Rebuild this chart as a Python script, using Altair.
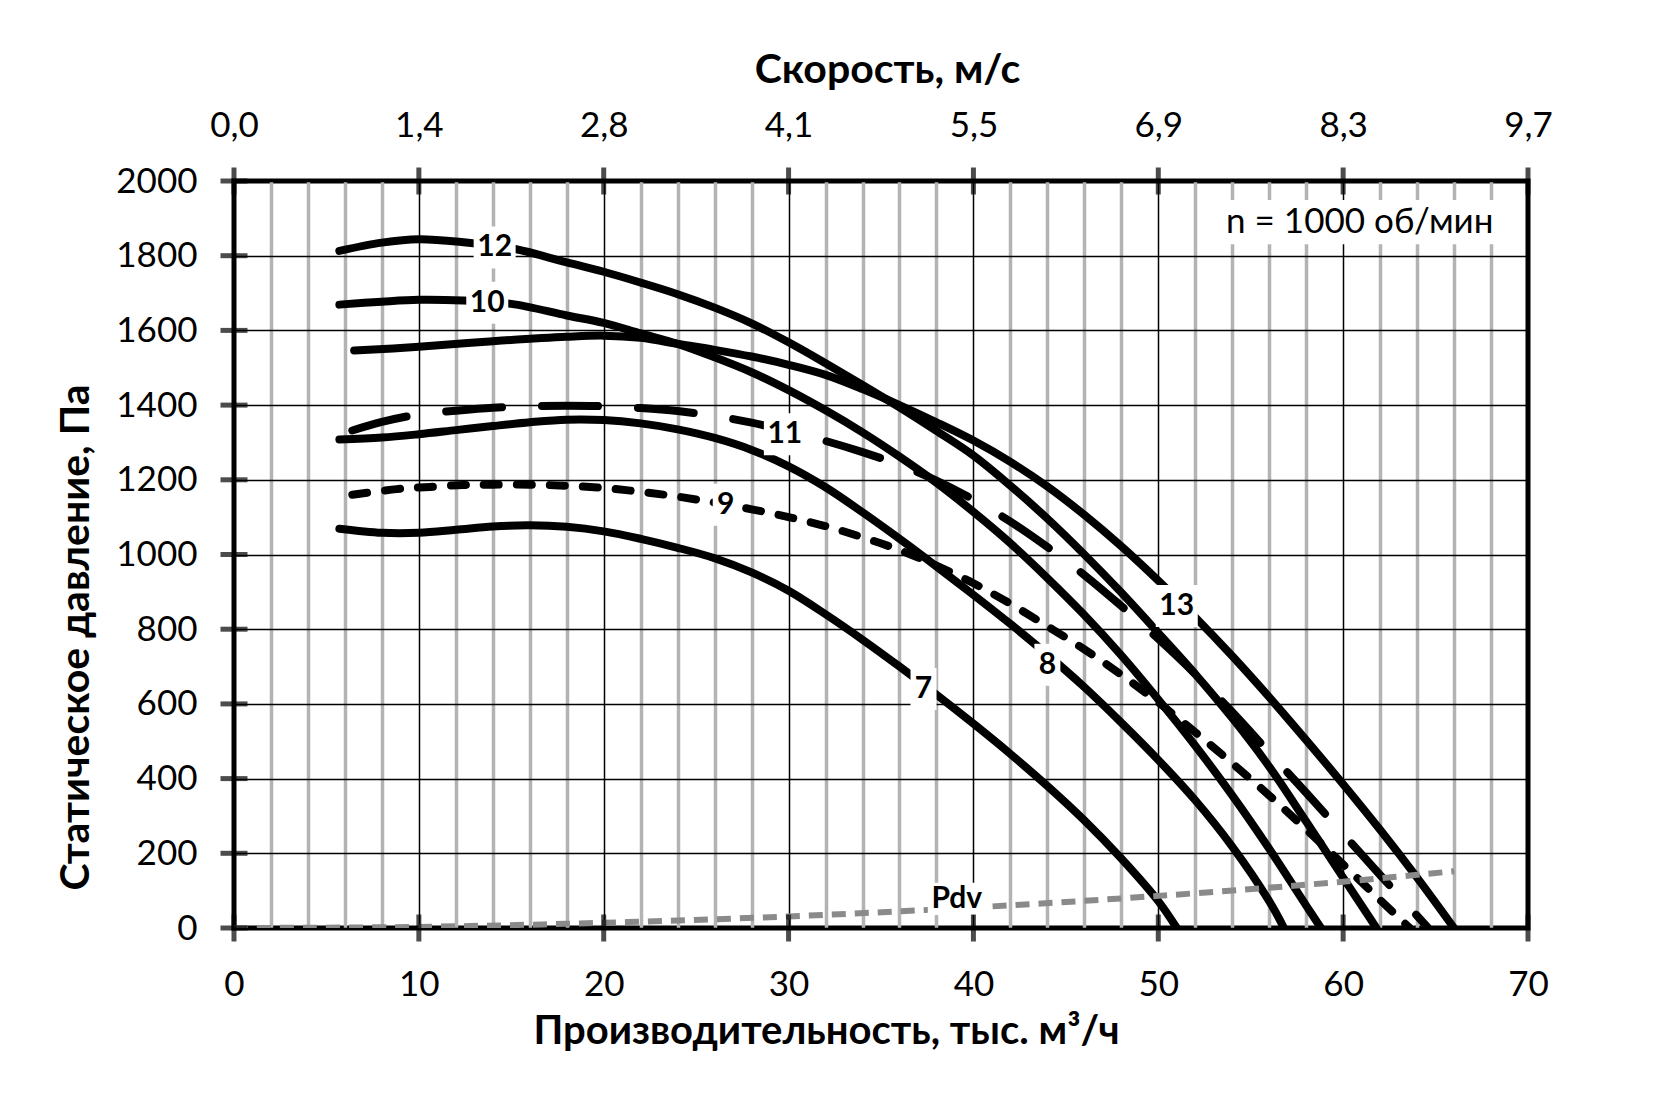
import altair as alt
import pandas as pd

# Fan curves: flow, thousand m3/h (x) vs static pressure, Pa (y)
c7_x = [5.7, 8, 10, 12, 14, 16, 18, 20, 22, 24, 26, 28, 30, 32, 34, 36, 38, 40, 42, 44, 46, 48, 50, 51]
c7_y = [1069, 1058, 1058, 1066, 1075, 1078, 1074, 1062, 1042, 1018, 990, 952, 903, 840, 772, 700, 625, 547, 466, 380, 288, 186, 72, 0]

c8_x = [5.7, 8, 10, 12, 14, 16, 18, 20, 22, 24, 26, 28, 30, 32, 34, 36, 38, 40, 42, 44, 46, 48, 50, 52, 54, 56, 56.8]
c8_y = [1308, 1313, 1322, 1333, 1344, 1354, 1361, 1360, 1351, 1335, 1312, 1280, 1236, 1180, 1113, 1042, 968, 892, 814, 732, 645, 550, 450, 342, 218, 72, 0]

c9_x = [6.4, 8.8, 10.6, 12.4, 14, 16, 18, 20, 22, 24, 26, 28, 30, 32, 34, 36, 38, 40, 42, 44, 46, 48, 50, 52, 54, 56, 58, 60, 62, 63.6]
c9_y = [1160, 1175, 1181, 1186, 1187, 1187, 1184, 1178, 1168, 1155, 1139, 1121, 1100, 1076, 1046, 1012, 970, 923, 868, 808, 746, 678, 604, 524, 441, 355, 264, 170, 75, 0]

c10_x = [5.7, 8, 10, 12.4, 15, 18, 20, 22, 24, 26, 28, 30, 32, 34, 36, 38, 40, 42, 44, 46, 48, 50, 52, 54, 56, 58, 58.8]
c10_y = [1669, 1677, 1682, 1680, 1671, 1640, 1620, 1592, 1564, 1528, 1488, 1440, 1386, 1327, 1262, 1192, 1114, 1030, 937, 838, 730, 612, 488, 355, 212, 60, 0]

c11_x = [6.4, 8, 10, 12, 14, 16, 18, 20, 22, 24, 26, 28, 30, 32, 34, 36, 38, 40, 42, 44, 46, 48, 50, 52, 54, 56, 58, 60, 62, 64.6]
c11_y = [1332, 1355, 1375, 1385, 1393, 1397, 1398, 1397, 1392, 1384, 1371, 1353, 1330, 1304, 1274, 1240, 1198, 1147, 1088, 1020, 945, 862, 774, 680, 578, 470, 362, 252, 142, 0]

c12_x = [5.7, 8, 10, 12.4, 15.2, 18, 20, 22, 24, 26, 28, 30, 32, 34, 36, 38, 40, 42, 44, 46, 48, 50, 52, 54, 56, 58, 60, 61.8]
c12_y = [1813, 1835, 1844, 1836, 1818, 1782, 1757, 1728, 1697, 1661, 1619, 1568, 1512, 1454, 1394, 1331, 1265, 1184, 1096, 1000, 898, 790, 680, 562, 432, 285, 135, 0]

c13_x = [6.5, 10, 14, 18, 20, 22, 24, 26, 28, 30, 32, 34, 36, 38, 40, 42, 44, 46, 48, 50, 52, 54, 56, 58, 60, 62, 64, 66]
c13_y = [1546, 1556, 1571, 1583, 1586, 1580, 1564, 1548, 1530, 1508, 1481, 1443, 1400, 1354, 1305, 1248, 1182, 1106, 1022, 930, 832, 728, 618, 503, 385, 263, 135, 0]

# dynamic pressure line
pdv_x = [0, 10, 20, 30, 40, 50, 60, 66]
pdv_y = [0, 3, 14, 31, 55, 86, 124, 152]

# in-plot labels
label_text = ["12", "10", "11", "9", "7", "8", "13", "Pdv"]
label_x = [14.1, 13.7, 29.8, 26.6, 37.3, 44.0, 51.0, 39.1]
label_y = [1822, 1674, 1322, 1133, 640, 705, 862, 78]

note_text = "n = 1000 об/мин"
note_x = 60.9
note_y = 1890

# axes
flow_ticks = [0, 10, 20, 30, 40, 50, 60, 70]
speed_labels = ["0,0", "1,4", "2,8", "4,1", "5,5", "6,9", "8,3", "9,7"]
pressure_ticks = [0, 200, 400, 600, 800, 1000, 1200, 1400, 1600, 1800, 2000]
flow_grid = list(range(0, 71, 2))

FONT = "Lato"
W, H = 1294, 747
TICK_FS = 35
TITLE_FS = 40


def frame(xs, ys, name=""):
    return pd.DataFrame({"x": xs, "y": ys, "curve": name})


x_scale = alt.Scale(domain=[0, 70], nice=False, zero=False)
y_scale = alt.Scale(domain=[0, 2000], nice=False, zero=False)

y_axis = alt.Axis(
    values=pressure_ticks,
    format="d",
    ticks=False,
    domain=False,
    grid=True,
    gridColor="black",
    gridWidth=1.5,
    labelFont=FONT,
    labelFontSize=TICK_FS,
    labelColor="black",
    labelPadding=37,
    labelFlush=False,
    title="Статическое давление, Па",
    titleFont=FONT,
    titleFontSize=TITLE_FS + 1,
    titleFontWeight="bold",
    titleColor="black",
    titleX=-158,
    titleY=456,
    titleAngle=270,
    titleAlign="center",
    titleBaseline="middle",
)
y_enc = alt.Y("y:Q", scale=y_scale, axis=y_axis)
x_plain = alt.X("x:Q", scale=x_scale, axis=None)

bottom_axis = alt.Axis(
    values=flow_grid,
    format="d",
    labelExpr="datum.value % 10 == 0 ? datum.label : ''",
    ticks=False,
    domain=False,
    grid=True,
    gridColor={"condition": {"test": "datum.value % 10 == 0", "value": "black"}, "value": "#b3b3b3"},
    gridWidth={"condition": {"test": "datum.value % 10 == 0", "value": 1.5}, "value": 3.5},
    labelFont=FONT,
    labelFontSize=TICK_FS,
    labelColor="black",
    labelBaseline="middle",
    labelPadding=56,
    labelFlush=False,
    title="Производительность, тыс. м³/ч",
    titleFont=FONT,
    titleFontSize=TITLE_FS,
    titleFontWeight="bold",
    titleColor="black",
    titleX=592,
    titleY=103,
    titleAlign="center",
    titleBaseline="middle",
)

speed_js = "[" + ",".join("'%s'" % s for s in speed_labels) + "]"
top_axis = alt.Axis(
    orient="top",
    values=flow_ticks,
    labelExpr=speed_js + "[round(datum.value / 10)]",
    ticks=False,
    domain=False,
    grid=False,
    labelFont=FONT,
    labelFontSize=TICK_FS,
    labelColor="black",
    labelBaseline="middle",
    labelPadding=56,
    labelFlush=False,
    title="Скорость, м/с",
    titleFont=FONT,
    titleFontSize=TITLE_FS + 1,
    titleFontWeight="bold",
    titleColor="black",
    titleX=653,
    titleY=-111,
    titleAlign="center",
    titleBaseline="middle",
)

# curves
line_style = dict(interpolate="catmull-rom", strokeWidth=8, color="black", strokeCap="round", clip=True)

solid_df = pd.concat([
    frame(c7_x, c7_y, "7"),
    frame(c8_x, c8_y, "8"),
    frame(c10_x, c10_y, "10"),
    frame(c12_x, c12_y, "12"),
    frame(c13_x, c13_y, "13"),
])

solid = (
    alt.Chart(solid_df)
    .mark_line(**line_style)
    .encode(x=x_plain, y=y_enc, detail="curve:N")
)

dashed = (
    alt.Chart(frame(c11_x, c11_y, "11"))
    .mark_line(strokeDash=[56, 40], **line_style)
    .encode(x=x_plain, y=y_enc)
)

dotted = (
    alt.Chart(frame(c9_x, c9_y, "9"))
    .mark_line(strokeDash=[15, 18], **line_style)
    .encode(x=x_plain, y=y_enc)
)

pdv = (
    alt.Chart(frame(pdv_x, pdv_y, "Pdv"))
    .mark_line(interpolate="catmull-rom", strokeWidth=6, color="#8a8a8a", strokeDash=[14, 9], clip=True)
    .encode(x=x_plain, y=y_enc)
)

# white boxes behind labels, then the labels
layers = [solid, dashed, dotted, pdv]
for t, lx, ly in zip(label_text, label_x, label_y):
    w = 10 + 16 * len(t)
    h = 32 if t == "Pdv" else 42
    r = h / w
    box = (
        alt.Chart(frame([lx], [ly]))
        .mark_point(shape="M-1,%.3fL1,%.3fL1,%.3fL-1,%.3fZ" % (-r, -r, r, r),
                    size=w * w, filled=True, color="white", opacity=1, strokeWidth=0)
        .encode(x=x_plain, y=y_enc)
    )
    layers.append(box)

note_w, note_h = 290, 44
note_r = note_h / note_w
note_box = (
    alt.Chart(frame([note_x], [note_y]))
    .mark_point(shape="M-1,%.3fL1,%.3fL1,%.3fL-1,%.3fZ" % (-note_r, -note_r, note_r, note_r),
                size=note_w * note_w, filled=True, color="white", opacity=1, strokeWidth=0)
    .encode(x=x_plain, y=y_enc)
)
layers.append(note_box)

labels_df = pd.DataFrame({"x": label_x, "y": label_y, "t": label_text})
labels = (
    alt.Chart(labels_df)
    .mark_text(font=FONT, fontSize=30, fontWeight="bold", color="black", baseline="middle", align="center")
    .encode(x=x_plain, y=y_enc, text="t:N")
)
note = (
    alt.Chart(pd.DataFrame({"x": [note_x], "y": [note_y], "t": [note_text]}))
    .mark_text(font=FONT, fontSize=35, color="black", baseline="middle", align="center")
    .encode(x=x_plain, y=y_enc, text="t:N")
)
layers += [labels, note]

# axis ticks crossing the frame
bottom_ticks = (
    alt.Chart(frame(flow_ticks, [0] * len(flow_ticks)))
    .mark_tick(orient="vertical", size=27, thickness=5, color="black")
    .encode(x=alt.X("x:Q", scale=x_scale, axis=bottom_axis), y=y_enc)
)
top_ticks = (
    alt.Chart(frame(flow_ticks, [2000] * len(flow_ticks)))
    .mark_tick(orient="vertical", size=27, thickness=5, color="black")
    .encode(x=alt.X("x:Q", scale=x_scale, axis=top_axis), y=y_enc)
)
left_ticks = (
    alt.Chart(frame([0] * len(pressure_ticks), pressure_ticks))
    .mark_tick(orient="horizontal", size=27, thickness=5, color="black")
    .encode(x=x_plain, y=y_enc)
)
layers += [bottom_ticks, top_ticks, left_ticks]

chart = (
    alt.layer(*layers)
    .resolve_axis(x="independent")
    .properties(
        width=W,
        height=H,
        autosize=alt.AutoSizeParams(type="none"),
        padding={"left": 226, "top": 173, "right": 100, "bottom": 150},
        background="white",
    )
    .configure_view(stroke="black", strokeWidth=5)
)

chart.save("out.html", embed_options={"renderer": "svg", "actions": False})
